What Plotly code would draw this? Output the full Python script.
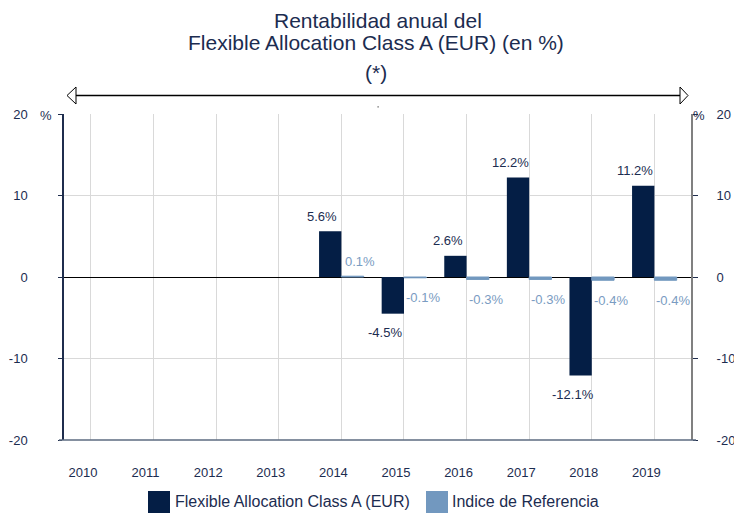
import plotly.graph_objects as go

years = ["2010", "2011", "2012", "2013", "2014", "2015", "2016", "2017", "2018", "2019"]
fund_name = "Flexible Allocation Class A (EUR)"
index_name = "Indice de Referencia"
fund_values = [None, None, None, None, 5.6, -4.5, 2.6, 12.2, -12.1, 11.2]
index_values = [None, None, None, None, 0.1, -0.1, -0.3, -0.3, -0.4, -0.4]
y_ticks = [-20, -10, 0, 10, 20]
y_tick_labels = ["-20", "-10", "0", "10", "20"]

NAVY = "#041e45"
LIGHT = "#7298bf"
TXT = "#1c2c50"
LIGHT_TXT = "#7a9cc2"
FONT = "Arial, Liberation Sans, sans-serif"

W, H = 734, 513
PLOT_L, PLOT_R, PLOT_T, PLOT_B = 64, 691, 114, 440  # plot area in pixels
L, T = PLOT_L, PLOT_T
R, B = W - PLOT_R, H - PLOT_B
PW, PH = PLOT_R - PLOT_L, PLOT_B - PLOT_T


def px(x):
    return (x - PLOT_L) / PW


def py(y):
    return (PLOT_B - y) / PH


fig = go.Figure()
fig.add_trace(go.Bar(x=years, y=fund_values, name=fund_name, marker=dict(color=NAVY, line=dict(width=0)),
                     showlegend=False, hoverinfo="x+y"))
fig.add_trace(go.Bar(x=years, y=index_values, name=index_name,
                     marker=dict(color=LIGHT, line=dict(color=LIGHT, width=1)),
                     showlegend=False, hoverinfo="x+y"))
# invisible companion trace so the right-hand axis gets its ticks
fig.add_trace(go.Scatter(x=years, y=index_values, yaxis="y2", mode="markers", marker=dict(opacity=0),
                         showlegend=False, hoverinfo="skip"))

annotations = []
# data labels
for i, v in enumerate(fund_values):
    if v is None:
        continue
    annotations.append(dict(x=i, y=v, xref="x", yref="y", text=f"{v:.1f}%", showarrow=False,
                            xshift=-19, yshift=15 if v >= 0 else -19,
                            font=dict(size=13, color=TXT, family=FONT)))
for i, v in enumerate(index_values):
    if v is None:
        continue
    annotations.append(dict(x=i, y=v, xref="x", yref="y", text=f"{v:.1f}%", showarrow=False,
                            xshift=19, yshift=15 if v >= 0 else -20,
                            font=dict(size=13, color=LIGHT_TXT, family=FONT)))

# titles
annotations.append(dict(x=px(378), y=py(20), xref="paper", yref="paper", text="Rentabilidad anual del",
                        showarrow=False, xanchor="center", yanchor="middle",
                        font=dict(size=21, color=TXT, family=FONT)))
annotations.append(dict(x=px(376), y=py(43), xref="paper", yref="paper",
                        text="Flexible Allocation Class A (EUR) (en %)",
                        showarrow=False, xanchor="center", yanchor="middle",
                        font=dict(size=21, color=TXT, family=FONT)))
annotations.append(dict(x=px(376), y=py(72), xref="paper", yref="paper", text="(*)",
                        showarrow=False, xanchor="center", yanchor="middle",
                        font=dict(size=21, color=TXT, family=FONT)))
# % labels
annotations.append(dict(x=px(46), y=py(116), xref="paper", yref="paper", text="%", showarrow=False,
                        xanchor="center", yanchor="middle", font=dict(size=13, color=TXT, family=FONT)))
annotations.append(dict(x=px(699), y=py(116), xref="paper", yref="paper", text="%", showarrow=False,
                        xanchor="center", yanchor="middle", font=dict(size=13, color=TXT, family=FONT)))
# legend texts
annotations.append(dict(x=px(173), y=py(501), xref="paper", yref="paper", text=fund_name, showarrow=False,
                        xanchor="left", yanchor="middle", font=dict(size=16, color=TXT, family=FONT)))
annotations.append(dict(x=px(450), y=py(501), xref="paper", yref="paper", text=index_name, showarrow=False,
                        xanchor="left", yanchor="middle", font=dict(size=16, color=TXT, family=FONT)))

shapes = []
# legend squares
shapes.append(dict(type="rect", xref="paper", yref="paper", x0=px(148), x1=px(170), y0=py(491), y1=py(513),
                   fillcolor=NAVY, line=dict(width=0)))
shapes.append(dict(type="rect", xref="paper", yref="paper", x0=px(426), x1=px(448), y0=py(491), y1=py(513),
                   fillcolor=LIGHT, line=dict(width=0)))
# double arrow
shapes.append(dict(type="line", xref="paper", yref="paper", x0=px(75), x1=px(681), y0=py(95.5), y1=py(95.5),
                   line=dict(color="black", width=1.5)))
shapes.append(dict(type="path", xref="paper", yref="paper",
                   path=f"M {px(67)} {py(95.5)} L {px(76)} {py(87)} L {px(76)} {py(104)} Z",
                   fillcolor="white", line=dict(color="black", width=1)))
shapes.append(dict(type="path", xref="paper", yref="paper",
                   path=f"M {px(688)} {py(95.5)} L {px(680)} {py(87)} L {px(680)} {py(104)} Z",
                   fillcolor="white", line=dict(color="black", width=1)))
# tiny dot under the arrow
shapes.append(dict(type="rect", xref="paper", yref="paper", x0=px(377.5), x1=px(378.7), y0=py(106.2),
                   y1=py(107.4), fillcolor="#555555", line=dict(width=0)))
# bottom axis line extending slightly beyond plot
shapes.append(dict(type="line", xref="paper", yref="paper", x0=px(59), x1=px(696), y0=0, y1=0,
                   line=dict(color="#5d6b80", width=1.5)))

fig.update_layout(
    width=W, height=H,
    margin=dict(l=L, r=R, t=T, b=B, pad=0, autoexpand=False),
    paper_bgcolor="white", plot_bgcolor="white",
    barmode="group", bargap=0.287, bargroupgap=0,
    showlegend=False,
    font=dict(family=FONT, size=13, color=TXT),
    xaxis=dict(type="category", range=[-0.431, 9.585], showgrid=True, gridcolor="#d9d9d9", gridwidth=1,
               ticks="", showline=False, zeroline=False, ticklabelshift=-8, ticklabelstandoff=23,
               automargin=False, tickfont=dict(size=13, color=TXT, family=FONT)),
    yaxis=dict(range=[-20, 20], tickvals=y_ticks, ticktext=y_tick_labels, showgrid=True,
               gridcolor="#d9d9d9", gridwidth=1,
               zeroline=True, zerolinecolor="black", zerolinewidth=1,
               showline=True, linecolor="#1f2d4d", linewidth=1.5, ticks="outside", ticklen=4,
               tickcolor="#1f2d4d", ticklabelstandoff=28, automargin=False,
               tickfont=dict(size=13, color=TXT, family=FONT)),
    yaxis2=dict(range=[-20, 20], tickvals=y_ticks, ticktext=y_tick_labels, overlaying="y", side="right",
                showgrid=False, zeroline=False, showline=True, linecolor="#808080", linewidth=2,
                ticks="outside", ticklen=5, tickcolor="#1f2d4d", ticklabelstandoff=16, automargin=False,
                tickfont=dict(size=13, color=TXT, family=FONT)),
    annotations=annotations,
    shapes=shapes,
)

fig.write_html(
    "out.html",
    config={"displayModeBar": False},
    post_script="document.body.style.margin='0';document.documentElement.style.overflow='hidden';",
)
